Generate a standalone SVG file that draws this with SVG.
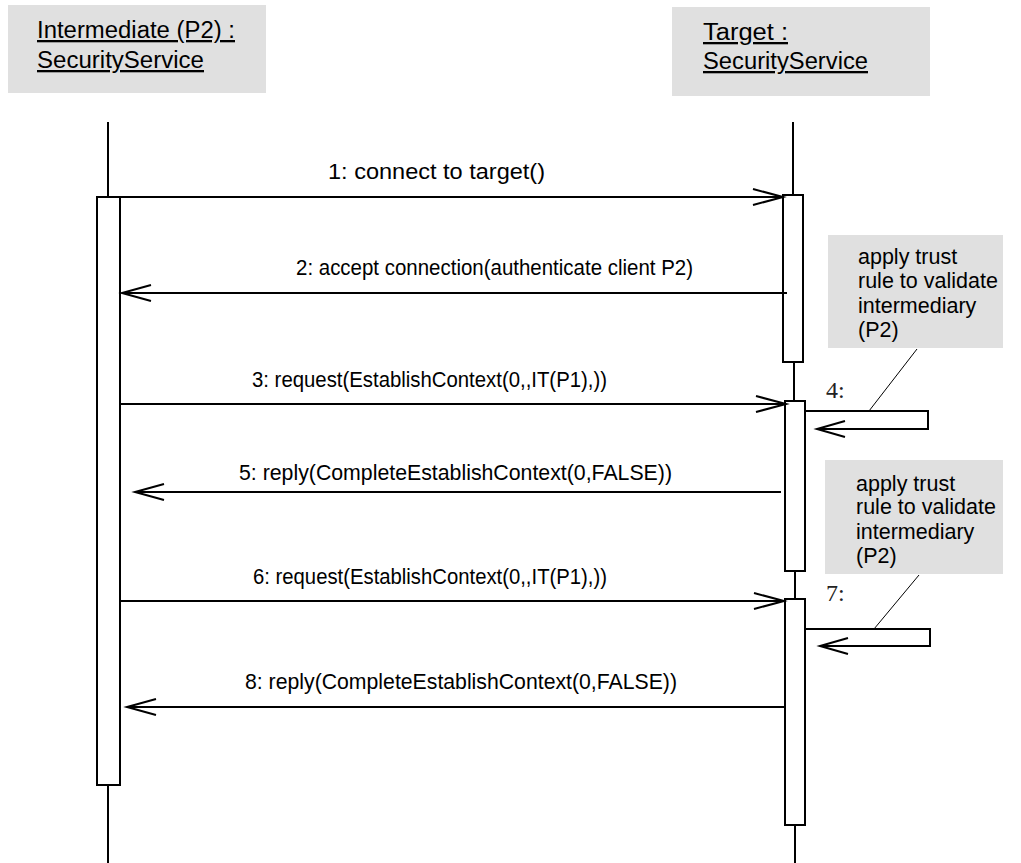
<svg xmlns="http://www.w3.org/2000/svg" width="1021" height="863" viewBox="0 0 1021 863">
<style>
.hdr{fill:#e0e0e0;stroke:none}
.t{font-family:"Liberation Sans",Arial,sans-serif;font-size:22px;fill:#000}
.h{font-size:23px}
.n{font-size:21.5px}
.u{text-decoration:underline}
.s{font-family:"Liberation Serif","Times New Roman",serif;font-size:24px;fill:#222}
.ll{stroke:#000;stroke-width:2;fill:none}
.act{fill:#fff;stroke:#000;stroke-width:2}
.msg{stroke:#000;stroke-width:2;fill:none}
.note{fill:#e0e0e0;stroke:none}
.thin{stroke:#000;stroke-width:1;fill:none}
</style>
<rect width="1021" height="863" fill="#fff"/>
<g id="node-intermediate">
<rect class="hdr" x="8" y="5" width="258" height="88"/>
<text class="t h u" x="37" y="38" textLength="198" lengthAdjust="spacingAndGlyphs">Intermediate (P2) :</text>
<text class="t h u" x="37" y="68" textLength="167" lengthAdjust="spacingAndGlyphs">SecurityService</text>
<line class="ll" x1="108" y1="122" x2="108" y2="197"/>
<rect class="act" x="97" y="197" width="23" height="588"/>
<line class="ll" x1="108" y1="785" x2="108" y2="863"/>
</g>
<g id="node-target">
<rect class="hdr" x="672" y="7" width="258" height="89"/>
<text class="t h u" x="703" y="40" textLength="85" lengthAdjust="spacingAndGlyphs">Target : </text>
<text class="t h u" x="703" y="69" textLength="165" lengthAdjust="spacingAndGlyphs">SecurityService</text>
<line class="ll" x1="793" y1="122" x2="793" y2="195"/>
<rect class="act" x="783" y="195" width="20" height="167"/>
<line class="ll" x1="794" y1="362" x2="794" y2="401"/>
<rect class="act" x="785" y="401" width="20" height="170"/>
<line class="ll" x1="795" y1="571" x2="795" y2="599"/>
<rect class="act" x="785" y="599" width="20" height="226"/>
<line class="ll" x1="795" y1="825" x2="795" y2="863"/>
</g>
<g id="note-1">
<rect class="note" x="828" y="235" width="175" height="113"/>
<text class="t n" x="858" y="264">apply trust</text>
<text class="t n" x="858" y="288">rule to validate</text>
<text class="t n" x="858" y="313">intermediary</text>
<text class="t n" x="858" y="337">(P2)</text>
</g>
<g id="note-2">
<rect class="note" x="825" y="460" width="178" height="114"/>
<text class="t n" x="856" y="491">apply trust</text>
<text class="t n" x="856" y="514">rule to validate</text>
<text class="t n" x="856" y="539">intermediary</text>
<text class="t n" x="856" y="563">(P2)</text>
</g>
<g id="connectors">
<line class="msg" x1="120" y1="197" x2="783" y2="197"/>
<polyline class="msg" points="753,189 783,197 753,205"/>
<text class="t" x="328" y="179" textLength="217" lengthAdjust="spacingAndGlyphs">1: connect to target()</text>
<line class="msg" x1="787" y1="293" x2="122" y2="293"/>
<polyline class="msg" points="151,285 122,293 151,301"/>
<text class="t" x="296" y="275" textLength="397" lengthAdjust="spacingAndGlyphs">2: accept connection(authenticate client P2)</text>
<line class="msg" x1="120" y1="404" x2="786" y2="404"/>
<polyline class="msg" points="756,396 786,404 756,412"/>
<text class="t" x="252" y="387" textLength="355" lengthAdjust="spacingAndGlyphs">3: request(EstablishContext(0,,IT(P1),))</text>
<polyline class="msg" points="805,411 928,411 928,429 817,429"/>
<polyline class="msg" points="845,421 817,429 845,437"/>
<text class="s" x="826" y="398">4:</text>
<line class="thin" x1="917" y1="349" x2="869" y2="411"/>
<line class="msg" x1="781" y1="492" x2="135" y2="492"/>
<polyline class="msg" points="164,484 135,492 164,500"/>
<text class="t" x="239" y="480" textLength="433" lengthAdjust="spacingAndGlyphs">5: reply(CompleteEstablishContext(0,FALSE))</text>
<line class="msg" x1="120" y1="601" x2="784" y2="601"/>
<polyline class="msg" points="754,593 784,601 754,609"/>
<text class="t" x="253" y="584" textLength="354" lengthAdjust="spacingAndGlyphs">6: request(EstablishContext(0,,IT(P1),))</text>
<polyline class="msg" points="806,629 930,629 930,646 820,646"/>
<polyline class="msg" points="848,638 820,646 848,654"/>
<text class="s" x="826" y="601">7:</text>
<line class="thin" x1="919" y1="575" x2="874" y2="629"/>
<line class="msg" x1="785" y1="707" x2="127" y2="707"/>
<polyline class="msg" points="156,699 127,707 156,715"/>
<text class="t" x="245" y="689" textLength="432" lengthAdjust="spacingAndGlyphs">8: reply(CompleteEstablishContext(0,FALSE))</text>
</g>
</svg>
